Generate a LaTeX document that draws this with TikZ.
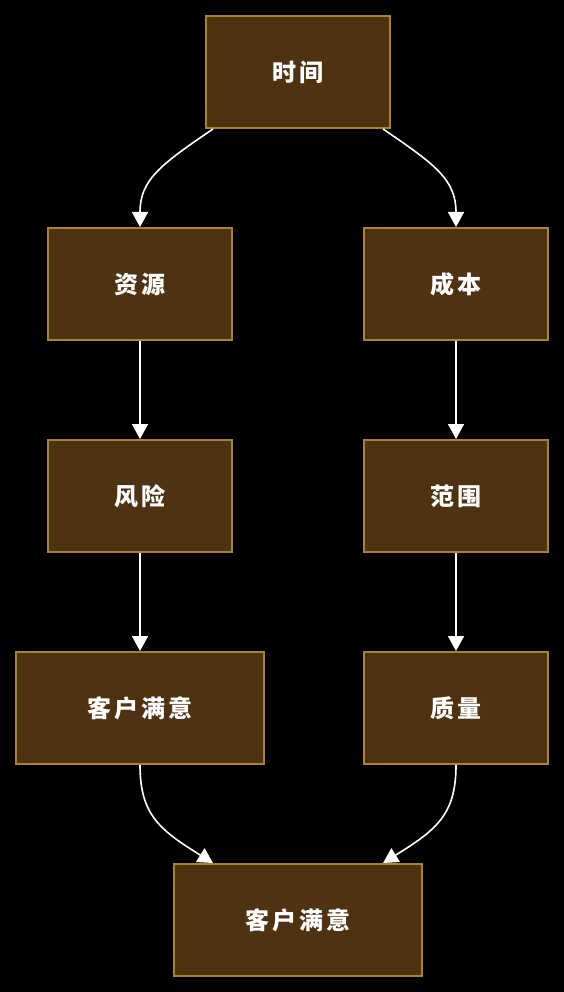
\documentclass[tikz,border=0pt]{standalone}
\usepackage{fontspec}
\newfontfamily\cjk[LetterSpace=12]{Noto Sans CJK SC}
\usetikzlibrary{arrows.meta}
\definecolor{boxfill}{HTML}{4F3211}
\definecolor{boxline}{HTML}{A8852A}
\tikzset{
  stepbox/.style={draw=boxline, fill=boxfill, line width=2pt, minimum height=112pt, inner sep=0pt,
    text=white, font=\cjk\fontsize{24}{28}\selectfont\bfseries},
  narrow/.style={stepbox, minimum width=184pt},
  wide/.style={stepbox, minimum width=248pt},
  conn/.style={draw=white, line width=1.6pt, -{Triangle[width=16pt,length=15pt]}}
}
\begin{document}
\begin{tikzpicture}[x=1pt,y=-1pt]
\fill[black] (0,0) rectangle (564,992);
\useasboundingbox (0,0) rectangle (564,992);
\node[narrow] (t) at (298,72) {时间};
\node[narrow] (r) at (140,284) {资源};
\node[narrow] (c) at (456,284) {成本};
\node[narrow] (f) at (140,496) {风险};
\node[narrow] (s) at (456,496) {范围};
\node[wide] (k1) at (140,708) {客户满意};
\node[narrow] (q) at (456,708) {质量};
\node[wide] (k2) at (298,920) {客户满意};
\draw[conn] ([xshift=8pt]t.south west) .. controls (160,165) and (140,180) .. (r.north);
\draw[conn] ([xshift=-8pt]t.south east) .. controls (436,165) and (456,180) .. (c.north);
\draw[conn] (r) -- (f);
\draw[conn] (c) -- (s);
\draw[conn] (f) -- (k1);
\draw[conn] (s) -- (q);
\draw[conn] (k1.south) .. controls (140,815) and (160,830) .. ([xshift=40pt]k2.north west);
\draw[conn] (q.south) .. controls (456,815) and (436,830) .. ([xshift=-40pt]k2.north east);
\end{tikzpicture}
\end{document}
